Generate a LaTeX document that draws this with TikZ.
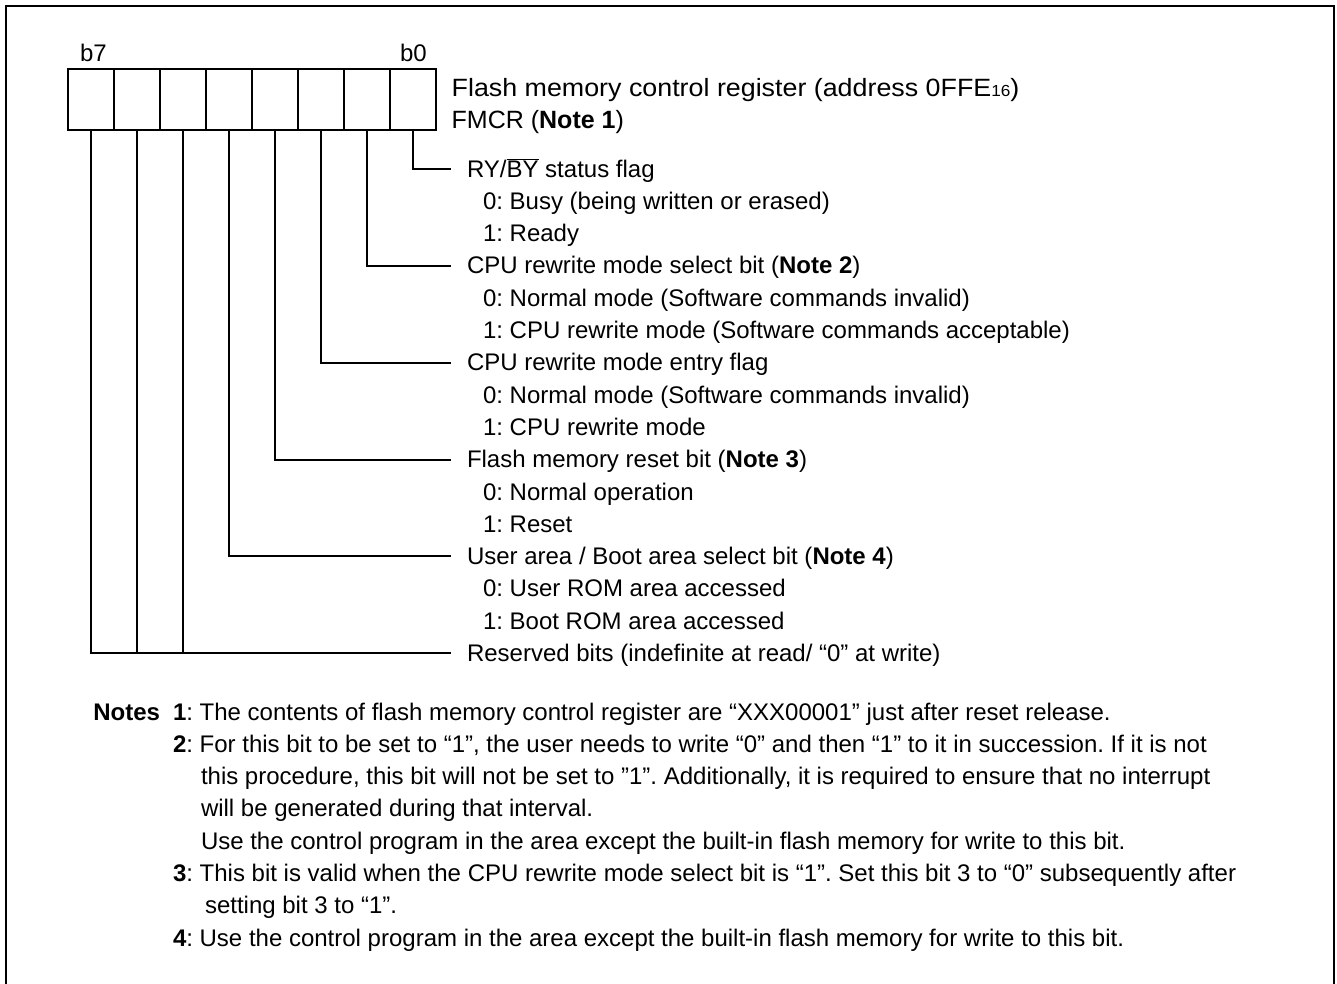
\documentclass[tikz,border=0pt]{standalone}
\usepackage{fontspec}
\setmainfont{Liberation Sans}
\frenchspacing
\begin{document}
\begin{tikzpicture}[x=1pt,y=-1pt,
  every node/.style={inner sep=0pt,outer sep=0pt,font=\fontsize{24}{32}\selectfont\frenchspacing},
  txt/.style={anchor=base west},
  big/.style={anchor=base west,font=\fontsize{25}{32}\selectfont\frenchspacing},
  cell/.style={draw,line width=1.8pt,minimum width=46pt,minimum height=60.7pt},
  wire/.style={line width=1.8pt},
  frame/.style={line width=2pt}]
\useasboundingbox (0,0) rectangle (1337,983);
% outer frame (bottom edge lies below the visible area)
\draw[frame] (6,1000) -- (6,6) -- (1334,6) -- (1334,1000);
% register cells
\foreach \i/\b in {0/7,1/6,2/5,3/4,4/3,5/2,6/1,7/0}{
  \node[cell] (r\b) at ({91.3+46*\i},99.7) {};
}
\node[txt] (lb7) at (80,61) {b7};
\node[txt] (lb0) at (400,61) {b0};
% title
\node[big] (title) at (451.7,96.7) {\scalebox{1.073}[1]{Flash memory control register (address 0FFE{\fontsize{16}{16}\selectfont 16})}};
\node[big] (fmcr) at (451.7,128.3) {FMCR (\textbf{Note 1})};
% items
\def\hx{467}\def\vx{483}
\node[txt] (k0) at (\hx,177) {RY/$\overline{\hbox{BY}}$ status flag};
\node[txt] (k1) at (\vx,209.3) {0: Busy (being written or erased)};
\node[txt] (k2) at (\vx,241.6) {1: Ready};
\node[txt] (k3) at (\hx,273.9) {CPU rewrite mode select bit (\textbf{Note 2})};
\node[txt] (k4) at (\vx,306.2) {0: Normal mode (Software commands invalid)};
\node[txt] (k5) at (\vx,338.5) {1: CPU rewrite mode (Software commands acceptable)};
\node[txt] (k6) at (\hx,370.8) {CPU rewrite mode entry flag};
\node[txt] (k7) at (\vx,403.1) {0: Normal mode (Software commands invalid)};
\node[txt] (k8) at (\vx,435.4) {1: CPU rewrite mode};
\node[txt] (k9) at (\hx,467.7) {Flash memory reset bit (\textbf{Note 3})};
\node[txt] (k10) at (\vx,500) {0: Normal operation};
\node[txt] (k11) at (\vx,532.3) {1: Reset};
\node[txt] (k12) at (\hx,564.6) {User area / Boot area select bit (\textbf{Note 4})};
\node[txt] (k13) at (\vx,596.9) {0: User ROM area accessed};
\node[txt] (k14) at (\vx,629.2) {1: Boot ROM area accessed};
\node[txt] (k15) at (\hx,661.5) {Reserved bits (indefinite at read/ “0” at write)};
% connector ends
\coordinate (e0) at (451,169);
\coordinate (e1) at (451,266);
\coordinate (e2) at (451,363);
\coordinate (e3) at (451,460);
\coordinate (e4) at (451,556);
\coordinate (e5) at (451,653);
\draw[wire] (r0.south) |- (e0);
\draw[wire] (r1.south) |- (e1);
\draw[wire] (r2.south) |- (e2);
\draw[wire] (r3.south) |- (e3);
\draw[wire] (r4.south) |- (e4);
\draw[wire] (r7.south) |- (e5);
\draw[wire] (r6.south) -- (r6.south |- e5);
\draw[wire] (r5.south) -- (r5.south |- e5);
% notes
\node[txt] (notes) at (93.3,720) {\textbf{Notes}};
\node[txt] (n1) at (173,720) {\textbf{1}: The contents of flash memory control register are “XXX00001” just after reset release.};
\node[txt] (n2) at (173,752.3) {\textbf{2}: For this bit to be set to “1”, the user needs to write “0” and then “1” to it in succession. If it is not};
\node[txt] (n2b) at (201,784.6) {this procedure, this bit will not be set to ”1”. Additionally, it is required to ensure that no interrupt};
\node[txt] (n2c) at (201,816.9) {will be generated during that interval.};
\node[txt] (n2d) at (201,849.2) {Use the control program in the area except the built-in flash memory for write to this bit.};
\node[txt] (n3) at (173,881.5) {\textbf{3}: This bit is valid when the CPU rewrite mode select bit is “1”. Set this bit 3 to “0” subsequently after};
\node[txt] (n3b) at (205,913.8) {setting bit 3 to “1”.};
\node[txt] (n4) at (173,946.1) {\textbf{4}: Use the control program in the area except the built-in flash memory for write to this bit.};
\end{tikzpicture}
\end{document}
